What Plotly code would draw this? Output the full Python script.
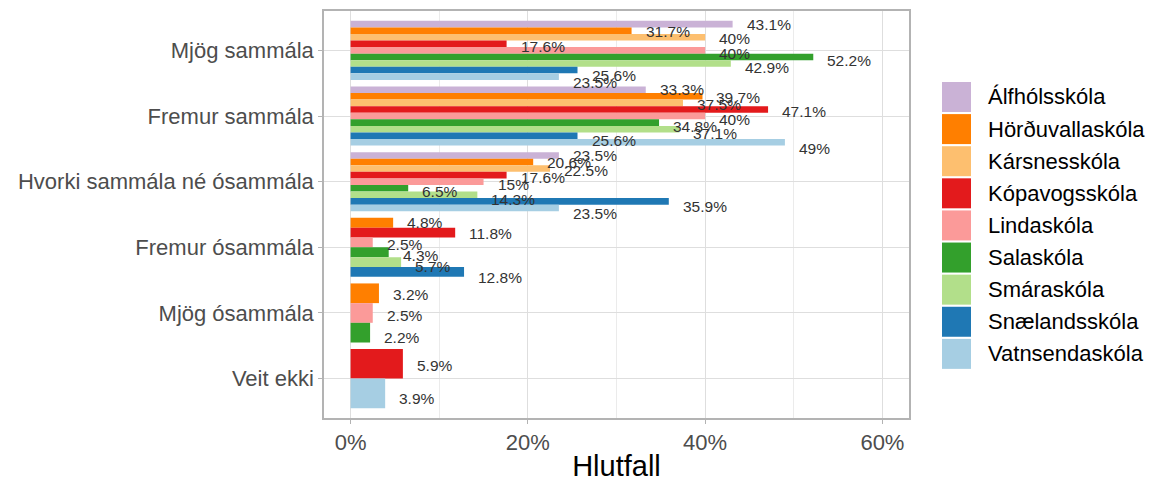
import plotly.graph_objs as go

categories = ['Mjög sammála', 'Fremur sammála', 'Hvorki sammála né ósammála',
	'Fremur ósammála', 'Mjög ósammála', 'Veit ekki']

schools = ['Álfhólsskóla', 'Hörðuvallaskóla', 'Kársnesskóla', 'Kópavogsskóla',
	'Lindaskóla', 'Salaskóla', 'Smáraskóla', 'Snælandsskóla', 'Vatnsendaskóla']

colors = ['#CAB2D6', '#FF7F00', '#FDBF6F', '#E31A1C', '#FB9A99',
	'#33A02C', '#B2DF8A', '#1F78B4', '#A6CEE3']

# percent per answer category, None = no answer in that category
alfholsskoli = [43.1, 33.3, 23.5, None, None, None]
hordhuvallaskoli = [31.7, 39.7, 20.6, 4.8, 3.2, None]
karsnesskoli = [40, 37.5, 22.5, None, None, None]
kopavogsskoli = [17.6, 47.1, 17.6, 11.8, None, 5.9]
lindaskoli = [40, 40, 15, 2.5, 2.5, None]
salaskoli = [52.2, 34.8, 6.5, 4.3, 2.2, None]
smaraskoli = [42.9, 37.1, 14.3, 5.7, None, None]
snaelandsskoli = [25.6, 25.6, 35.9, 12.8, None, None]
vatnsendaskoli = [23.5, 49, 23.5, None, None, 3.9]

values = [alfholsskoli, hordhuvallaskoli, karsnesskoli, kopavogsskoli, lindaskoli,
	salaskoli, smaraskoli, snaelandsskoli, vatnsendaskoli]

x_ticks = [0, 20, 40, 60]
x_tick_labels = ['0%', '20%', '40%', '60%']

FONT = 'Liberation Sans'
BAR_WIDTH = 0.9
TEXT_WIDTH = 1.0


def dodge(cat_idx, school_idx, width):

	'''
	ggplot style dodge: bars that exist in a category share the width
	Return : `(center, size)`
	'''

	present = [s for s in range(len(schools)) if values[s][cat_idx] is not None]
	n = len(present)
	k = present.index(school_idx)
	pos = len(categories) - cat_idx
	size = width / n
	return pos + width / 2 - (k + 0.5) * size, size


fig = go.Figure()
annotations = []

for s, name in enumerate(schools):
	xs, ys, ws = [], [], []
	for c in range(len(categories)):
		v = values[s][c]
		if v is None:
			continue
		yc, w = dodge(c, s, BAR_WIDTH)
		xs.append(v)
		ys.append(yc)
		ws.append(w)
		ty, _ = dodge(c, s, TEXT_WIDTH)
		annotations.append(dict(
			x=v, y=ty, xref='x', yref='y', text='%g%%' % v,
			showarrow=False, xanchor='left', yanchor='middle',
			xshift=12, yshift=-3,
			font=dict(family=FONT, size=15.5, color='#333333')
		))
	fig.add_trace(go.Bar(
		x=xs, y=ys, width=ws, orientation='h', name=name,
		marker=dict(color=colors[s], line=dict(width=0)),
		showlegend=False, hoverinfo='x+name'
	))

# legend drawn by hand so the keys can be big squares like ggplot
shapes = []
for s, name in enumerate(schools):
	top = 0.8256 - s * 0.0789
	shapes.append(dict(
		type='rect', xref='paper', yref='paper',
		x0=1.0564, x1=1.106, y0=top - 0.0737, y1=top,
		fillcolor=colors[s], line=dict(width=0)
	))
	annotations.append(dict(
		x=1.1316, y=top - 0.0368, xref='paper', yref='paper', text=name,
		showarrow=False, xanchor='left', yanchor='middle',
		font=dict(family=FONT, size=22, color='#000000')
	))

# the page body adds an 8px margin, so the figure is 8px smaller
fig.update_layout(
	barmode='overlay',
	width=1151,
	height=474,
	margin=dict(l=316, r=250, t=3, b=64),
	paper_bgcolor='white',
	plot_bgcolor='white',
	font=dict(family=FONT),
	shapes=shapes,
	annotations=annotations,
	xaxis=dict(
		range=[-3, 63],
		tickvals=x_ticks,
		ticktext=x_tick_labels,
		tickfont=dict(family=FONT, size=22, color='#4D4D4D'),
		ticks='outside', ticklen=4, tickcolor='#B3B3B3',
		showgrid=True, gridcolor='#DEDEDE', gridwidth=1,
		minor=dict(tickvals=[10, 30, 50], showgrid=True, gridcolor='#EBEBEB', gridwidth=0.6),
		showline=True, mirror=True, linecolor='#B3B3B3', linewidth=1.5,
		zeroline=False, automargin=False,
		title=dict(text='Hlutfall', font=dict(family=FONT, size=29, color='#000000'), standoff=10)
	),
	yaxis=dict(
		range=[0.4, 6.6],
		tickvals=[len(categories) - i for i in range(len(categories))],
		ticktext=categories,
		tickfont=dict(family=FONT, size=22, color='#4D4D4D'),
		ticks='outside', ticklen=4, tickcolor='#B3B3B3',
		showgrid=True, gridcolor='#DEDEDE', gridwidth=1,
		showline=True, mirror=True, linecolor='#B3B3B3', linewidth=1.5,
		zeroline=False, automargin=False
	)
)

fig.write_html('out.html')
